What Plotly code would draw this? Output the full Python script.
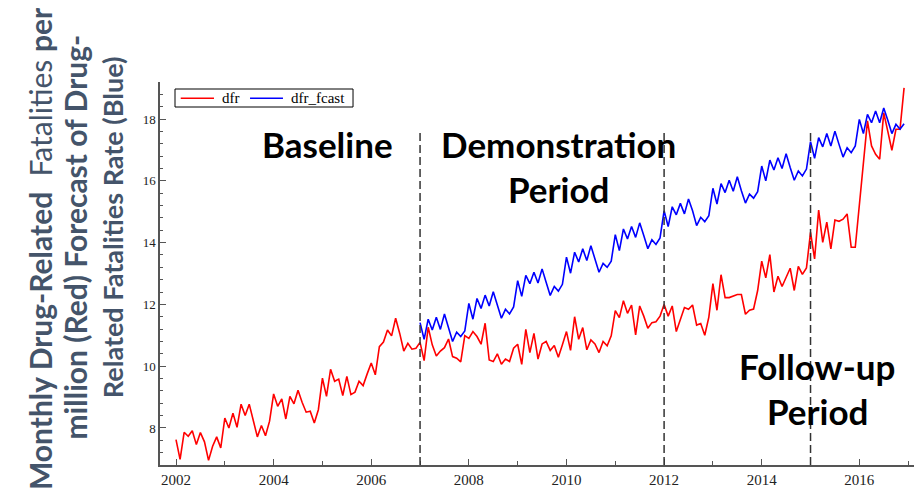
import plotly.graph_objects as go

# Monthly series, January 2002 onwards (one value per month)
dfr_start = 2002
dfr = [
    7.62, 6.98, 7.86, 7.73, 7.91, 7.46, 7.85, 7.55, 6.95, 7.41, 7.71, 7.35,
    8.32, 8.00, 8.48, 8.02, 8.77, 8.40, 8.77, 8.27, 7.71, 8.08, 7.75, 8.22,
    9.10, 8.70, 8.94, 8.29, 9.02, 8.78, 9.22, 8.83, 8.51, 8.54, 8.16, 8.59,
    9.61, 9.02, 9.90, 9.51, 9.58, 9.05, 9.67, 9.08, 9.16, 9.51, 9.37, 9.75,
    10.10, 9.72, 10.63, 10.78, 11.17, 10.98, 11.55, 11.06, 10.49, 10.74, 10.55, 10.58,
    10.77, 10.18, 11.26, 10.69, 10.33, 10.49, 10.60, 10.88, 10.31, 10.26, 10.14, 10.99,
    10.90, 11.12, 10.96, 10.71, 11.39, 10.20, 10.15, 10.40, 10.06, 10.23, 10.15, 10.58,
    10.71, 10.06, 11.19, 10.44, 11.06, 10.23, 10.72, 10.80, 10.51, 10.67, 10.29, 10.69,
    11.12, 10.51, 11.60, 10.87, 11.25, 10.53, 10.85, 10.72, 10.44, 10.80, 10.66, 10.98,
    11.80, 11.57, 12.12, 11.71, 11.98, 11.01, 11.95, 11.62, 11.23, 11.41, 11.44, 11.62,
    12.00, 11.62, 11.95, 11.12, 11.55, 11.90, 11.84, 11.98, 11.33, 11.38, 11.00, 11.59,
    12.67, 11.81, 12.96, 12.22, 12.22, 12.27, 12.32, 12.32, 11.68, 11.81, 11.85, 12.45,
    13.40, 12.86, 13.61, 12.40, 12.91, 12.58, 12.88, 13.17, 12.45, 13.23, 12.97, 13.18,
    14.33, 13.47, 15.05, 14.01, 14.66, 13.80, 14.73, 14.69, 14.76, 14.93, 13.85, 13.85,
    15.21, 16.58, 17.94, 17.13, 16.86, 16.70, 18.20, 17.60, 16.99, 17.67, 17.67, 19.01,
]

# Forecast series, January 2007 onwards
fcast_start = 2007
dfr_fcast = [
    11.41, 10.87, 11.52, 11.17, 11.58, 11.19, 11.69, 11.23, 10.80, 11.10, 10.96, 11.14,
    12.03, 11.52, 12.19, 11.87, 12.30, 11.95, 12.41, 11.98, 11.55, 11.84, 11.69, 11.92,
    12.77, 12.26, 12.94, 12.67, 13.04, 12.69, 13.15, 12.72, 12.29, 12.58, 12.43, 12.65,
    13.53, 13.01, 13.69, 13.37, 13.80, 13.42, 13.90, 13.47, 13.04, 13.33, 13.20, 13.40,
    14.26, 13.74, 14.44, 14.12, 14.52, 14.17, 14.64, 14.23, 13.80, 14.09, 13.94, 14.15,
    15.03, 14.52, 15.16, 14.90, 15.27, 14.93, 15.41, 15.03, 14.55, 14.82, 14.68, 14.87,
    15.76, 15.25, 15.91, 15.62, 16.02, 15.66, 16.13, 15.68, 15.28, 15.57, 15.44, 15.65,
    16.48, 16.00, 16.67, 16.35, 16.75, 16.40, 16.88, 16.43, 16.02, 16.32, 16.16, 16.38,
    17.27, 16.73, 17.40, 17.10, 17.53, 17.13, 17.61, 17.18, 16.77, 17.07, 16.91, 17.13,
    17.99, 17.53, 18.15, 17.88, 18.26, 17.88, 18.36, 17.96, 17.53, 17.83, 17.67, 17.85,
]

series_names = ["dfr", "dfr_fcast"]
series_colors = ["#ff0000", "#0000ff"]

# Period boundaries (dashed lines)
boundaries = [2007, 2012, 2015]
x_ticks = [2002, 2004, 2006, 2008, 2010, 2012, 2014, 2016]
y_ticks = [8, 10, 12, 14, 16, 18]

x_dfr = [dfr_start + i / 12 for i in range(len(dfr))]
x_fc = [fcast_start + i / 12 for i in range(len(dfr_fcast))]

fig = go.Figure()
fig.add_trace(go.Scatter(x=x_dfr, y=dfr, mode="lines", name=series_names[0],
                         line=dict(color=series_colors[0], width=1.6)))
fig.add_trace(go.Scatter(x=x_fc, y=dfr_fcast, mode="lines", name=series_names[1],
                         line=dict(color=series_colors[1], width=1.6)))

for b in boundaries:
    fig.add_shape(type="line", xref="x", yref="y", x0=b, x1=b, y0=6.8, y1=17.65,
                  line=dict(color="#333333", width=1.5, dash="8px,4px"), layer="above")

# Period labels
label_font = dict(family="Lato", size=35, color="#000000")
labels = [
    ("<b>Baseline</b>", 2005.10, 17.18),
    ("<b>Demonstration</b>", 2009.83, 17.18),
    ("<b>Period</b>", 2009.83, 15.74),
    ("<b>Follow-up</b>", 2015.14, 10.0),
    ("<b>Period</b>", 2015.14, 8.55),
]
for txt, x, y in labels:
    fig.add_annotation(text=txt, x=x, y=y, xref="x", yref="y", showarrow=False,
                       font=label_font, xanchor="center", yanchor="middle")

# Three-line vertical axis title
title_color = "#44546A"
title_lines = [
    ("<b>Monthly Drug-Related</b>\u00a0 Fatalities <b>per</b>", -0.159, 0.564, 30),
    ("<b>million (Red) Forecast of Drug-</b>", -0.1127, 0.594, 30),
    ("<b>Related Fatalities Rate (Blue)</b>", -0.0637, 0.621, 27),
]
for txt, x, y, size in title_lines:
    fig.add_annotation(text=txt, x=x, y=y, xref="paper", yref="paper", showarrow=False,
                       textangle=-90, xanchor="center", yanchor="middle",
                       font=dict(family="Lato", size=size, color=title_color))

# Boxed legend in the upper-left corner of the plot area
fig.add_shape(type="rect", xref="paper", yref="paper",
              x0=0.0199, x1=0.2560, y0=0.9347, y1=0.9817,
              line=dict(color="#000000", width=1), fillcolor="white", layer="above")
legend_items = [(0.0275, 0.0716, 0.0796), (0.1194, 0.1631, 0.1711)]
for (lx0, lx1, tx), name, color in zip(legend_items, series_names, series_colors):
    fig.add_shape(type="line", xref="paper", yref="paper", x0=lx0, x1=lx1,
                  y0=0.9574, y1=0.9574, line=dict(color=color, width=1.5), layer="above")
    fig.add_annotation(text=name, x=tx, y=0.9574, xref="paper", yref="paper",
                       showarrow=False, xanchor="left", yanchor="middle",
                       font=dict(family="Liberation Serif", size=15, color="#000000"))

axis_common = dict(showgrid=False, zeroline=False, showline=True, linecolor="#555555",
                   linewidth=1.5, ticks="inside", tickcolor="#555555", tickwidth=1.2)

fig.update_xaxes(range=[2001.672, 2017.12], tickvals=x_ticks, ticklen=6,
                 ticktext=[str(t) for t in x_ticks],
                 tickfont=dict(family="Liberation Serif", size=15, color="#222222"),
                 minor=dict(dtick=1, tick0=2002, ticks="inside", ticklen=4,
                            tickcolor="#555555"),
                 **axis_common)
fig.update_yaxes(range=[6.8, 19.2], tickvals=y_ticks, ticklen=6,
                 tickfont=dict(family="Liberation Serif", size=13, color="#222222"),
                 minor=dict(dtick=0.4, tick0=8, ticks="inside", ticklen=3,
                            tickcolor="#555555"),
                 **axis_common)

fig.update_layout(
    width=914, height=491,
    margin=dict(l=160, r=0, t=82, b=26),
    paper_bgcolor="white", plot_bgcolor="white",
    showlegend=False,
)

fig.write_html("out.html")
